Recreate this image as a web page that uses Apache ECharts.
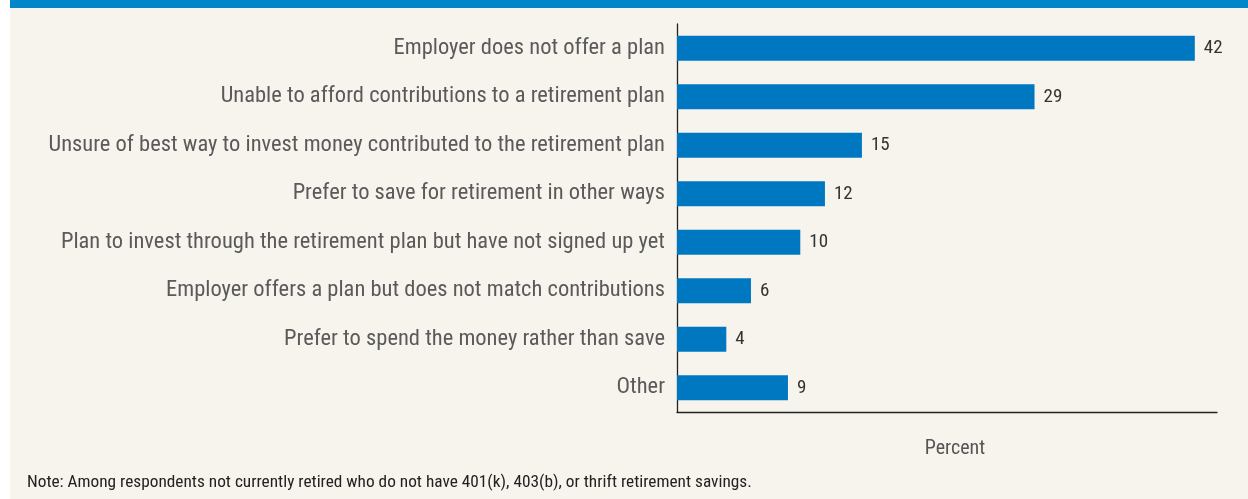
<!DOCTYPE html>
<html><head><meta charset="utf-8">
<script src="https://cdn.jsdelivr.net/npm/echarts@6/dist/echarts.min.js"></script>
<style>html,body{margin:0;padding:0;background:#fff}#c{width:1248px;height:499px}</style>
</head><body><div id="c"></div>
<script>
const categories = [
  "Employer does not offer a plan",
  "Unable to afford contributions to a retirement plan",
  "Unsure of best way to invest money contributed to the retirement plan",
  "Prefer to save for retirement in other ways",
  "Plan to invest through the retirement plan but have not signed up yet",
  "Employer offers a plan but does not match contributions",
  "Prefer to spend the money rather than save",
  "Other"
];
const values = [42, 29, 15, 12, 10, 6, 4, 9];
const axisTitle = "Percent";
const note = "Note: Among respondents not currently retired who do not have 401(k), 403(b), or thrift retirement savings.";

const FONT = "'Liberation Sans Narrow', 'Roboto Condensed', 'DejaVu Sans Condensed', sans-serif";
const chart = echarts.init(document.getElementById('c'), null, {renderer: 'canvas'});
chart.setOption({
  backgroundColor: '#ffffff',
  animation: false,
  textStyle: {fontFamily: FONT},
  graphic: [
    {type: 'rect', z: -10, shape: {x: 10, y: 0, width: 1238, height: 499}, style: {fill: '#f7f4ee'}},
    {type: 'rect', z: -9, shape: {x: 10, y: 0, width: 1238, height: 8}, style: {fill: '#0086c9'}},
    {type: 'text', left: 27, top: 474, style: {text: note, fontFamily: FONT, fontSize: 17.3, fill: '#222'}}
  ],
  grid: {left: 677, right: 31, top: 24, bottom: 87, containLabel: false},
  xAxis: {
    type: 'value', min: 0, max: 43.8,
    axisLine: {show: true, lineStyle: {color: '#222', width: 1.3}},
    axisTick: {show: false}, axisLabel: {show: false}, splitLine: {show: false},
    name: axisTitle, nameLocation: 'middle', nameGap: 27,
    nameTextStyle: {fontFamily: FONT, fontSize: 20, color: '#555', padding: [0, 0, 0, 16]}
  },
  yAxis: {
    type: 'category', inverse: true, data: categories,
    axisLine: {show: true, lineStyle: {color: '#222', width: 1.3}},
    axisTick: {show: false},
    axisLabel: {fontFamily: FONT, fontSize: 22.5, color: '#5a5a5a', margin: 12}
  },
  series: [{
    type: 'bar', data: values, barWidth: 25,
    itemStyle: {color: '#0078c1'},
    label: {show: true, position: 'right', distance: 9, fontFamily: FONT, fontSize: 19, color: '#333'}
  }]
});
</script></body></html>
